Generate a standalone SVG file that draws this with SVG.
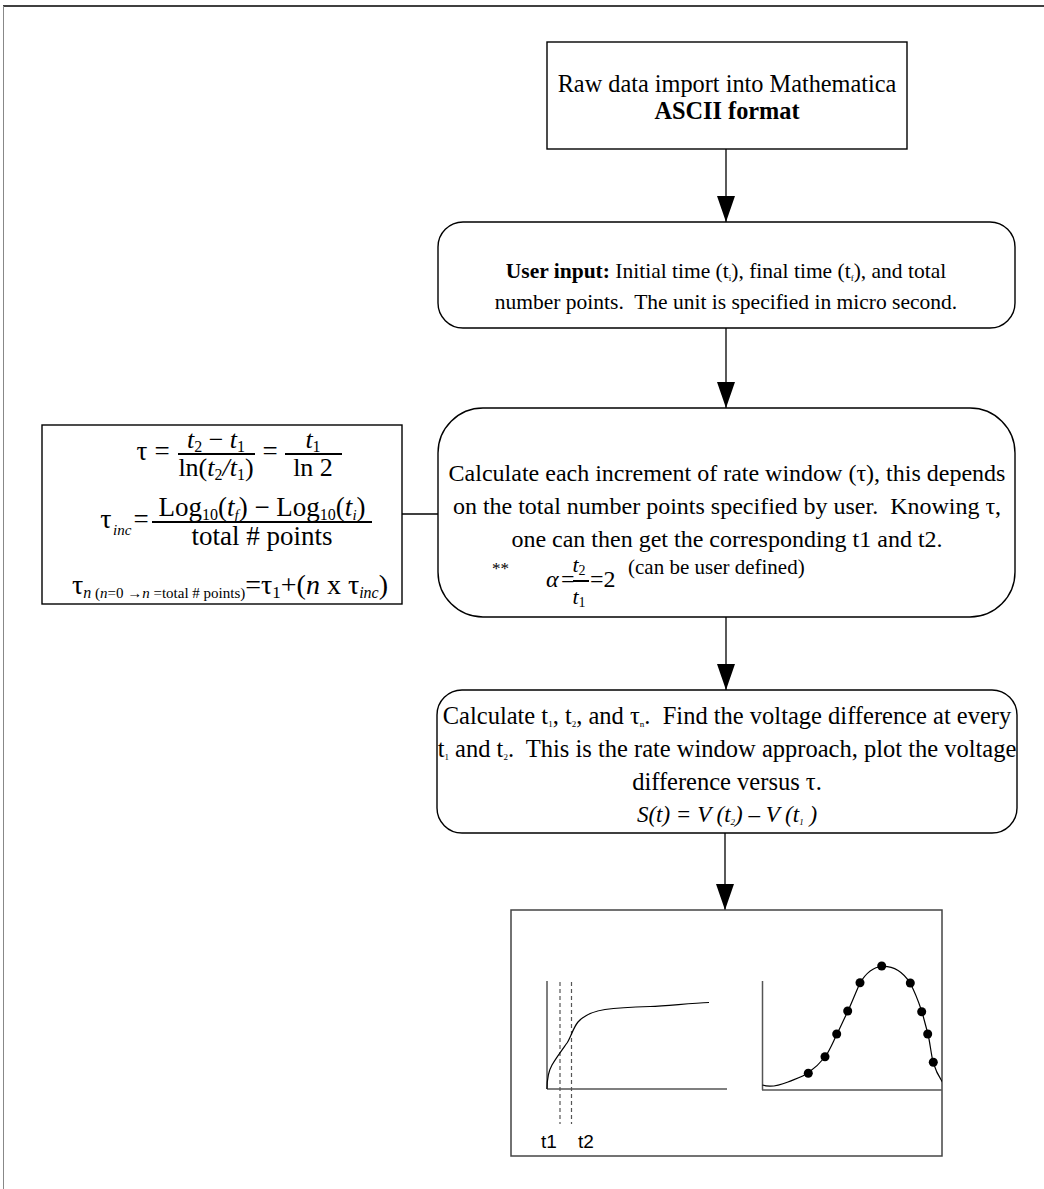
<svg xmlns="http://www.w3.org/2000/svg" width="1044" height="1189" viewBox="0 0 1044 1189">
<style>
.serif{font-family:"Liberation Serif","Times New Roman",serif;fill:#000}
.box{fill:#fff;stroke:#000;stroke-width:1.4}
.conn{stroke:#000;stroke-width:1.3;fill:none}
.it{font-style:italic}
.sans{font-family:"Liberation Sans",Arial,sans-serif;fill:#000}
.axis{stroke:#555;stroke-width:1.5;fill:none}
.dash{stroke:#555;stroke-width:1.2;stroke-dasharray:4 3;fill:none}
.curve{stroke:#000;stroke-width:1.2;fill:none}
</style>
<defs>
<marker id="ah" markerUnits="userSpaceOnUse" markerWidth="26" markerHeight="18" viewBox="0 0 26 18" refX="26" refY="9" orient="auto">
<path d="M0,0 L26,9 L0,18 z" fill="#000"/>
</marker>
<clipPath id="c5"><rect x="511" y="910" width="431" height="247"/></clipPath>
</defs>
<rect width="1044" height="1189" fill="#fff"/>
<g id="frame">
<line x1="3" y1="6" x2="1044" y2="6" stroke="#000" stroke-width="1.5"/>
<line x1="3.5" y1="6" x2="3.5" y2="1189" stroke="#888" stroke-width="1"/>
</g>
<g id="connectors">
<line class="conn" x1="726" y1="149" x2="726" y2="222" marker-end="url(#ah)"/>
<line class="conn" x1="726" y1="328" x2="726" y2="408" marker-end="url(#ah)"/>
<line class="conn" x1="726" y1="617" x2="726" y2="690" marker-end="url(#ah)"/>
<line class="conn" x1="725" y1="833" x2="725" y2="910" marker-end="url(#ah)"/>
<line class="conn" x1="402" y1="514" x2="438" y2="514"/>
</g>
<g id="n1">
<rect class="box" x="547" y="42" width="360" height="107"/>
<text class="serif" x="727" y="92" font-size="24.3" text-anchor="middle">Raw data import into Mathematica</text>
<text class="serif" x="727" y="119" font-size="24.3" font-weight="bold" text-anchor="middle">ASCII format</text>
</g>
<g id="n2">
<rect class="box" x="438" y="222" width="577" height="106" rx="25"/>
<text class="serif" x="726" y="278" font-size="21.5" text-anchor="middle"><tspan font-weight="bold">User input:</tspan> Initial time (t<tspan font-size="9" dy="3">i</tspan><tspan dy="-3">), final time (t</tspan><tspan font-size="9" dy="3">f</tspan><tspan dy="-3">), and total</tspan></text>
<text class="serif" x="726" y="309" font-size="21.5" text-anchor="middle" xml:space="preserve">number points.  The unit is specified in micro second.</text>
</g>
<g id="n3">
<rect class="box" x="438" y="408" width="577" height="209" rx="45"/>
<text class="serif" x="727" y="481" font-size="24" text-anchor="middle">Calculate each increment of rate window (τ), this depends</text>
<text class="serif" x="727" y="514" font-size="24" text-anchor="middle" xml:space="preserve">on the total number points specified by user.  Knowing τ,</text>
<text class="serif" x="727" y="547" font-size="24" text-anchor="middle">one can then get the corresponding t1 and t2.</text>
<text class="serif" x="492" y="574" font-size="17">**</text>
<text class="serif it" x="546" y="587" font-size="24">α</text>
<text class="serif" x="561" y="587" font-size="24">=</text>
<text class="serif" x="579" y="572" font-size="22" text-anchor="middle"><tspan class="it">t</tspan><tspan font-size="14" dy="3">2</tspan></text>
<line x1="573" y1="581" x2="589" y2="581" stroke="#000" stroke-width="2"/>
<text class="serif" x="579" y="604" font-size="22" text-anchor="middle"><tspan class="it">t</tspan><tspan font-size="14" dy="3">1</tspan></text>
<text class="serif" x="590" y="587" font-size="24">=2</text>
<text class="serif" x="628" y="574" font-size="21">(can be user defined)</text>
</g>
<g id="n_formulas">
<rect class="box" x="42" y="425" width="360" height="179"/>
<text class="serif" x="142" y="460" font-size="27" text-anchor="middle">τ</text>
<text class="serif" x="162" y="460" font-size="27" text-anchor="middle">=</text>
<text class="serif" x="216" y="448" font-size="26" text-anchor="middle"><tspan class="it">t</tspan><tspan font-size="16" dy="4">2</tspan><tspan dy="-4"> − </tspan><tspan class="it">t</tspan><tspan font-size="16" dy="4">1</tspan></text>
<line x1="178" y1="454" x2="255" y2="454" stroke="#000" stroke-width="1.8"/>
<text class="serif" x="216" y="476" font-size="26" text-anchor="middle">ln(<tspan class="it">t</tspan><tspan font-size="16" dy="4">2</tspan><tspan dy="-4" class="it">/t</tspan><tspan font-size="16" dy="4">1</tspan><tspan dy="-4">)</tspan></text>
<text class="serif" x="270" y="460" font-size="27" text-anchor="middle">=</text>
<text class="serif" x="313" y="448" font-size="26" text-anchor="middle"><tspan class="it">t</tspan><tspan font-size="16" dy="4">1</tspan></text>
<line x1="285" y1="454" x2="342" y2="454" stroke="#000" stroke-width="1.8"/>
<text class="serif" x="313" y="476" font-size="26" text-anchor="middle">ln 2</text>
<text class="serif" x="106" y="528" font-size="28" text-anchor="middle">τ</text>
<text class="serif it" x="113" y="535" font-size="15">inc</text>
<text class="serif" x="141" y="528" font-size="27" text-anchor="middle">=</text>
<text class="serif" x="262" y="516" font-size="27" text-anchor="middle" xml:space="preserve">Log<tspan font-size="16" dy="4">10</tspan><tspan dy="-4">(</tspan><tspan class="it">t</tspan><tspan class="it" font-size="15" dy="4">f</tspan><tspan dy="-4">) − Log</tspan><tspan font-size="16" dy="4">10</tspan><tspan dy="-4">(</tspan><tspan class="it">t</tspan><tspan class="it" font-size="15" dy="4">i</tspan><tspan dy="-4">)</tspan></text>
<line x1="152" y1="522" x2="372" y2="522" stroke="#000" stroke-width="1.8"/>
<text class="serif" x="262" y="545" font-size="27" text-anchor="middle">total # points</text>
<text class="serif" x="230" y="594" font-size="28" text-anchor="middle" xml:space="preserve">τ<tspan class="it" font-size="16" dy="4">n</tspan><tspan font-size="15"> (</tspan><tspan class="it" font-size="15">n</tspan><tspan font-size="15">=0 →</tspan><tspan class="it" font-size="15">n</tspan><tspan font-size="15"> =total # points)</tspan><tspan dy="-4">=τ</tspan><tspan font-size="17" dy="4">1</tspan><tspan dy="-4">+(</tspan><tspan class="it">n</tspan><tspan> x τ</tspan><tspan class="it" font-size="16" dy="4">inc</tspan><tspan dy="-4">)</tspan></text>
</g>
<g id="n4">
<rect class="box" x="437" y="690" width="580" height="143" rx="25"/>
<text class="serif" x="727" y="724" font-size="24.5" text-anchor="middle" xml:space="preserve">Calculate t<tspan font-size="9" dy="3">1</tspan><tspan dy="-3">, t</tspan><tspan font-size="9" dy="3">2</tspan><tspan dy="-3">, and τ</tspan><tspan font-size="9" dy="3">n</tspan><tspan dy="-3">.  Find the voltage difference at every</tspan></text>
<text class="serif" x="727" y="757" font-size="24.5" text-anchor="middle" xml:space="preserve">t<tspan font-size="9" dy="3">1</tspan><tspan dy="-3"> and t</tspan><tspan font-size="9" dy="3">2</tspan><tspan dy="-3">.  This is the rate window approach, plot the voltage</tspan></text>
<text class="serif" x="727" y="790" font-size="24.5" text-anchor="middle">difference versus τ.</text>
<text class="serif it" x="727" y="822" font-size="23" text-anchor="middle">S(t) = V (t<tspan font-size="9" dy="3">2</tspan><tspan dy="-3">) – V (t</tspan><tspan font-size="9" dy="3">1</tspan><tspan dy="-3"> )</tspan></text>
</g>
<g id="n5">
<rect x="511" y="910" width="431" height="246" fill="#fff" stroke="#444" stroke-width="1.5"/>
<line class="axis" x1="547" y1="981" x2="547" y2="1089"/>
<line class="axis" x1="547" y1="1089" x2="727" y2="1089"/>
<line class="dash" x1="560" y1="982" x2="560" y2="1124"/>
<line class="dash" x1="571.5" y1="982" x2="571.5" y2="1124"/>
<path class="curve" d="M547,1089 C547,1080 548,1072 552,1065 C556,1058 562,1050 567,1043 C571,1037 573,1028 578,1022 C585,1014 596,1011 605,1009.5 C620,1007.5 635,1007 650,1006.5 C668,1006 690,1003 709,1002.5"/>
<text class="sans" x="549" y="1148" font-size="19" text-anchor="middle">t1</text>
<text class="sans" x="586" y="1148" font-size="19" text-anchor="middle">t2</text>
<g clip-path="url(#c5)">
<line class="axis" x1="762.5" y1="981" x2="762.5" y2="1090"/>
<line class="axis" x1="762" y1="1090" x2="942" y2="1090"/>
<path class="curve" d="M762.5,1085 C768,1087 778,1086 788,1082 C798,1078 804,1076 808,1073 C815,1068 821,1062 825,1057 C830,1050 833,1042 837,1034 C841,1026 844,1019 848,1011 C852,1002 856,992 860,983 C866,973 874,967 882,966.5 C893,966 903,972 910,983 C915,992 919,1003 922,1012 C924,1019 926,1027 928,1034 C930,1043 931,1053 933,1062 C936,1072 939,1077 943,1083"/>
</g>
<g fill="#000">
<circle cx="808.3" cy="1073.3" r="4.5"/>
<circle cx="825" cy="1056.7" r="4.5"/>
<circle cx="836.7" cy="1034" r="4.5"/>
<circle cx="847.7" cy="1011" r="4.5"/>
<circle cx="860" cy="982.7" r="4.5"/>
<circle cx="881.7" cy="966" r="4.5"/>
<circle cx="910.3" cy="983" r="4.5"/>
<circle cx="921.7" cy="1011.7" r="4.5"/>
<circle cx="927.7" cy="1034" r="4.5"/>
<circle cx="933.3" cy="1062.3" r="4.5"/>
</g>
</g>
</svg>
